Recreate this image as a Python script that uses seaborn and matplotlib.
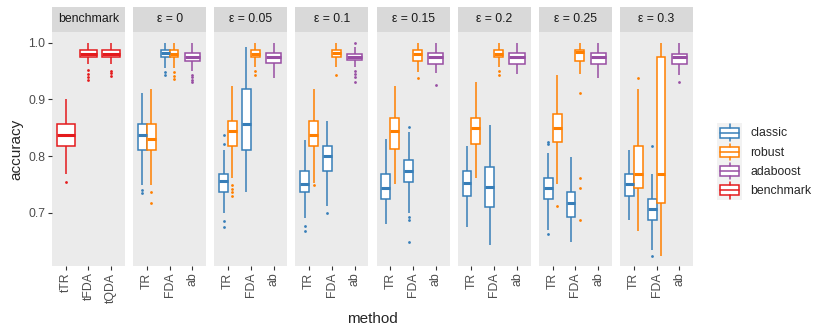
import numpy as np
import pandas as pd
import seaborn as sns
import matplotlib.pyplot as plt
from matplotlib.legend_handler import HandlerBase
from matplotlib.patches import Rectangle, Patch
from matplotlib.lines import Line2D

# facets and categories
eps_labels = ["ε = 0", "ε = 0.05", "ε = 0.1", "ε = 0.15", "ε = 0.2", "ε = 0.25", "ε = 0.3"]
bench_methods = ["tTR", "tFDA", "tQDA"]
methods = ["TR", "FDA", "ab"]
groups = ["classic", "robust", "adaboost", "benchmark"]
colors = ["#377EB8", "#FF7F00", "#984EA3", "#E41A1C"]

# box summaries: [lower whisker, q1, median, q3, upper whisker]
# one entry per epsilon facet
classic_TR = [[0.749, 0.811, 0.837, 0.856, 0.912], [0.699, 0.736, 0.756, 0.768, 0.811],
              [0.690, 0.736, 0.750, 0.774, 0.829], [0.680, 0.724, 0.743, 0.768, 0.831],
              [0.674, 0.729, 0.753, 0.774, 0.818], [0.669, 0.724, 0.743, 0.762, 0.805],
              [0.687, 0.729, 0.750, 0.768, 0.811]]
classic_TR_out = [[0.741, 0.735], [0.837, 0.821, 0.686, 0.674], [0.676, 0.668], [], [],
                  [0.825, 0.821, 0.662], []]
robust_TR = [[0.749, 0.811, 0.831, 0.856, 0.918], [0.762, 0.818, 0.844, 0.862, 0.924],
             [0.753, 0.818, 0.837, 0.862, 0.918], [0.751, 0.812, 0.844, 0.868, 0.924],
             [0.762, 0.822, 0.850, 0.868, 0.931], [0.750, 0.824, 0.850, 0.875, 0.943],
             [0.668, 0.743, 0.768, 0.818, 0.918]]
robust_TR_out = [[0.736, 0.717], [0.749, 0.742, 0.736, 0.729], [0.749], [], [], [0.712], [0.937]]
classic_FDA = [[0.955, 0.974, 0.982, 0.987, 1.000], [0.737, 0.811, 0.856, 0.918, 0.993],
               [0.712, 0.774, 0.801, 0.818, 0.862], [0.700, 0.755, 0.774, 0.793, 0.843],
               [0.643, 0.711, 0.746, 0.781, 0.855], [0.649, 0.693, 0.718, 0.737, 0.799],
               [0.634, 0.687, 0.706, 0.724, 0.768]]
classic_FDA_out = [[0.949, 0.943], [], [0.699], [0.852, 0.693, 0.687, 0.649], [], [], [0.818, 0.624]]
robust_FDA = [[0.955, 0.974, 0.981, 0.987, 1.000], [0.958, 0.974, 0.981, 0.988, 1.000],
              [0.958, 0.974, 0.982, 0.987, 1.000], [0.949, 0.968, 0.981, 0.987, 1.000],
              [0.958, 0.974, 0.981, 0.987, 1.000], [0.945, 0.968, 0.984, 0.988, 1.000],
              [0.624, 0.718, 0.768, 0.974, 1.000]]
robust_FDA_out = [[0.949, 0.942, 0.936], [0.950, 0.943], [0.943], [0.937], [0.950, 0.943],
                  [0.912, 0.762, 0.743, 0.687], []]
adaboost = [[0.951, 0.967, 0.974, 0.982, 1.000], [0.938, 0.964, 0.974, 0.982, 1.000],
            [0.958, 0.969, 0.975, 0.980, 0.993], [0.946, 0.962, 0.974, 0.982, 1.000],
            [0.945, 0.962, 0.974, 0.982, 1.000], [0.937, 0.962, 0.974, 0.982, 1.000],
            [0.943, 0.962, 0.974, 0.981, 1.000]]
adaboost_out = [[0.943, 0.939, 0.934, 0.930], [], [1.000, 0.951, 0.945, 0.940, 0.931], [0.925], [], [],
                [0.931]]
benchmark = [[0.768, 0.818, 0.837, 0.856, 0.900], [0.962, 0.974, 0.981, 0.987, 1.000],
             [0.962, 0.974, 0.981, 0.987, 1.000]]
benchmark_out = [[0.755], [0.952, 0.945, 0.939, 0.934], [0.951, 0.946, 0.941]]


def box_values(summary, outliers):
    # repeat the five numbers so the computed quartiles sit on the read values
    return list(np.repeat(summary, 25)) + list(outliers)


rows = []
for m, s, o in zip(bench_methods, benchmark, benchmark_out):
    rows += [("benchmark", m, "benchmark", v) for v in box_values(s, o)]
series = [("TR", "classic", classic_TR, classic_TR_out), ("TR", "robust", robust_TR, robust_TR_out),
          ("FDA", "classic", classic_FDA, classic_FDA_out), ("FDA", "robust", robust_FDA, robust_FDA_out),
          ("ab", "adaboost", adaboost, adaboost_out)]
for i, lab in enumerate(eps_labels):
    for m, g, s, o in series:
        rows += [(lab, m, g, v) for v in box_values(s[i], o[i])]
df = pd.DataFrame(rows, columns=["facet", "method", "group", "accuracy"])

sns.set_theme(style="white")
plt.rcParams['font.family'] = ['Liberation Sans', 'DejaVu Sans']
pal = dict(zip(groups, colors))


def restyle(container, color):
    for b in container.boxes:
        b.set_facecolor("white")
        b.set_edgecolor(color)
        b.set_linewidth(1.1)
    for md in container.medians:
        md.set_color(color)
        md.set_linewidth(2.2)
    for w in container.whiskers:
        w.set_color(color)
        w.set_linewidth(1.1)
    for f in container.fliers:
        f.set_marker("o")
        f.set_markersize(2.0)
        f.set_markerfacecolor(color)
        f.set_markeredgecolor(color)
        f.set_markeredgewidth(0)


fig, axes = plt.subplots(1, 8, figsize=(8.3, 3.32), dpi=100, sharey=True)
fig.subplots_adjust(left=52 / 830, right=693 / 830, bottom=66 / 332, top=1 - 32 / 332, wspace=0.114)

facets = ["benchmark"] + eps_labels
for k, (ax, lab) in enumerate(zip(axes, facets)):
    sub = df[df.facet == lab]
    if lab == "benchmark":
        sns.boxplot(data=sub, x="method", y="accuracy", order=bench_methods, width=0.78,
                    showcaps=False, ax=ax)
        restyle(ax.containers[0], pal["benchmark"])
    else:
        pair = sub[sub.method != "ab"]
        sns.boxplot(data=pair, x="method", y="accuracy", hue="group", order=methods,
                    hue_order=["classic", "robust"], width=0.78, showcaps=False,
                    legend=False, ax=ax)
        sns.boxplot(data=sub[sub.method == "ab"], x="method", y="accuracy", order=methods,
                    width=0.66, showcaps=False, ax=ax)
        for c, g in zip(ax.containers, ["classic", "robust", "adaboost"]):
            restyle(c, pal[g])

    ax.set_facecolor("#EBEBEB")
    for sp in ax.spines.values():
        sp.set_visible(False)
    ax.set_xlim(-0.6, 2.6)
    ax.set_ylim(0.606, 1.019)
    ax.set_xlabel("")
    ax.set_ylabel("")
    ax.grid(False)
    ax.tick_params(axis="x", labelrotation=90, bottom=True, length=2.75, width=0.8, color="#333333",
                   labelsize=8.8, labelcolor="#4D4D4D", pad=2)
    ax.tick_params(axis="y", left=(k == 0), length=2.75, width=0.8, color="#333333",
                   labelsize=8.8, labelcolor="#4D4D4D", pad=2)

    # facet strip
    ax.add_patch(Rectangle((0, 1), 1, 25 / 234, transform=ax.transAxes, facecolor="#D9D9D9",
                           edgecolor="none", clip_on=False))
    ax.text(0.5, 1 + 12.5 / 234, lab, transform=ax.transAxes, ha="center", va="center",
            fontsize=8.8, color="#1A1A1A")

axes[0].set_yticks([0.7, 0.8, 0.9, 1.0])
axes[0].set_yticklabels(["0.7", "0.8", "0.9", "1.0"])

fig.text(372.5 / 830, 1 - 319 / 332, "method", ha="center", va="center", fontsize=11)
fig.text(16 / 830, 1 - 149 / 332, "accuracy", ha="center", va="center", rotation=90, fontsize=11)


class BoxKey(HandlerBase):
    def create_artists(self, legend, orig_handle, xdescent, ydescent, width, height, fontsize, trans):
        c = orig_handle.get_edgecolor()
        x0, y0 = -xdescent, -ydescent
        xm = x0 + width / 2
        parts = [
            Rectangle((x0, y0), width, height, facecolor="#F2F2F2", edgecolor="none", transform=trans),
            Rectangle((x0 + 0.1 * width, y0 + 0.24 * height), 0.78 * width, 0.52 * height,
                      facecolor="white", edgecolor=c, lw=1.1, transform=trans),
            Line2D([x0 + 0.1 * width, x0 + 0.88 * width], [y0 + 0.5 * height] * 2, color=c, lw=1.1,
                   transform=trans),
            Line2D([xm, xm], [y0 + 0.08 * height, y0 + 0.24 * height], color=c, lw=1.1, transform=trans),
            Line2D([xm, xm], [y0 + 0.76 * height, y0 + 0.92 * height], color=c, lw=1.1, transform=trans),
        ]
        return parts


handles = [Patch(edgecolor=c, facecolor="white") for c in colors]
fig.legend(handles, groups, handler_map={Patch: BoxKey()}, loc="center left",
           bbox_to_anchor=(717 / 830, 1 - 161.5 / 332), frameon=False, fontsize=8.8,
           handlelength=2.05, handleheight=2.05, labelspacing=0, handletextpad=0.65,
           borderpad=0, borderaxespad=0)

fig.savefig("out.png", dpi=100)
